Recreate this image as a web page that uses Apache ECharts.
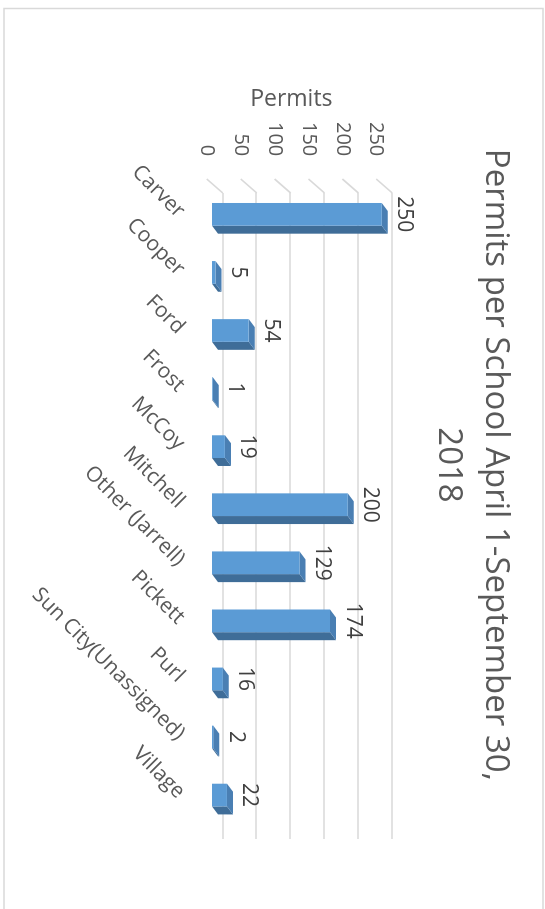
<!DOCTYPE html>
<html>
<head>
<meta charset="utf-8">
<script src="https://cdn.jsdelivr.net/npm/echarts@6/dist/echarts.min.js"></script>
<style>
html,body{margin:0;padding:0;background:#fff;overflow:hidden;width:545px;height:909px;}
#rot{position:absolute;left:0;top:0;width:909px;height:545px;transform-origin:0 0;transform:translate(545px,0) rotate(90deg);}
</style>
</head>
<body>
<div id="rot"></div>
<script>
// Data
const schools = ['Carver','Cooper','Ford','Frost','McCoy','Mitchell','Other (Jarrell)','Pickett','Purl','Sun City(Unassigned)','Village'];
const permits = [250, 5, 54, 1, 19, 200, 129, 174, 16, 2, 22];
const tickValues = [0, 50, 100, 150, 200, 250];
const titleText = 'Permits per School April 1-September 30,\n2018';
const axisTitle = 'Permits';

const FONT = "'Open Sans', 'DejaVu Sans', sans-serif";
const DEPTH_X = 8, DEPTH_Y = -6;

const chart = echarts.init(document.getElementById('rot'), null, {width: 909, height: 545, renderer: 'canvas'});

const option = {
  backgroundColor: '#ffffff',
  animation: false,
  title: {
    text: titleText,
    left: 460,
    textAlign: 'center',
    top: 21.5,
    textStyle: {fontFamily: FONT, fontSize: 33, fontWeight: 'normal', color: '#595959', lineHeight: 47}
  },
  graphic: [{
    type: 'rect', silent: true, z: -10,
    shape: {x: 8.5, y: 2, width: 1000, height: 539},
    style: {fill: 'none', stroke: '#d9d9d9', lineWidth: 1.5}
  }],
  grid: [
    {left: 193, right: 70, top: 152.7, bottom: 222.8},
    {left: 185.3, right: 84.9, top: 163.3, bottom: 212},
    {left: 185.3, right: 84.9, top: 168.8, bottom: 206.5}
  ],
  xAxis: [
    {gridIndex: 0, type: 'value', min: 0, max: 1, show: false},
    {gridIndex: 1, type: 'category', data: schools,
     axisLine: {show: false}, axisTick: {show: false},
     axisLabel: {rotate: 45, margin: 31, interval: 0, fontFamily: FONT, fontSize: 21, color: '#595959'}},
    {gridIndex: 2, type: 'value', min: 0, max: 1, show: false}
  ],
  yAxis: [
    {gridIndex: 0, type: 'value', min: 0, max: 250, interval: 50,
     axisLine: {show: false}, axisTick: {show: false}, axisLabel: {show: false},
     splitLine: {show: true, lineStyle: {color: '#d9d9d9', width: 1.6}}},
    {gridIndex: 1, type: 'value', min: 0, max: 250, interval: 50,
     axisLine: {show: false}, axisTick: {show: false}, splitLine: {show: false},
     axisLabel: {show: false}},
    {gridIndex: 2, type: 'value', min: 0, max: 250, interval: 50,
     axisLine: {show: false}, axisTick: {show: false}, splitLine: {show: false},
     axisLabel: {margin: 29, fontFamily: FONT, fontSize: 20, color: '#595959'},
     name: axisTitle, nameLocation: 'middle', nameRotate: 90, nameGap: 72,
     nameTextStyle: {fontFamily: FONT, fontSize: 23, color: '#595959'}}
  ],
  series: [
    {
      type: 'custom', xAxisIndex: 0, yAxisIndex: 0, z: 1, silent: true,
      data: tickValues.map(v => [0, v]),
      renderItem: function (params, api) {
        const p = api.coord([0, api.value(1)]);
        return {
          type: 'line',
          shape: {x1: p[0] - 14, y1: p[1] + 16, x2: p[0], y2: p[1]},
          style: {stroke: '#d9d9d9', lineWidth: 1.6}
        };
      }
    },
    {
      type: 'custom', xAxisIndex: 1, yAxisIndex: 1, z: 3, silent: true,
      data: permits.map((v, i) => [i, v]),
      renderItem: function (params, api) {
        const i = api.value(0), v = api.value(1);
        const top = api.coord([i, v]);
        const base = api.coord([i, 0]);
        const w = 22.7;
        const x0 = top[0] - w / 2, x1 = top[0] + w / 2;
        const yT = top[1], yB = base[1];
        return {
          type: 'group',
          children: [
            {type: 'polygon', shape: {points: [[x1, yT], [x1 + DEPTH_X, yT + DEPTH_Y], [x1 + DEPTH_X, yB + DEPTH_Y], [x1, yB]]},
             style: {fill: '#3f6d98'}},
            {type: 'polygon', shape: {points: [[x0, yT], [x1, yT], [x1 + DEPTH_X, yT + DEPTH_Y], [x0 + DEPTH_X, yT + DEPTH_Y]]},
             style: {fill: '#4a7fb3'}}
          ]
        };
      }
    },
    {
      type: 'bar', xAxisIndex: 1, yAxisIndex: 1, z: 4,
      data: permits, barWidth: 22.7,
      itemStyle: {color: '#5b9bd5'},
      label: {show: true, position: 'top', distance: 12, fontFamily: FONT, fontSize: 21, color: '#404040'}
    }
  ]
};
chart.setOption(option);
</script>
</body>
</html>
